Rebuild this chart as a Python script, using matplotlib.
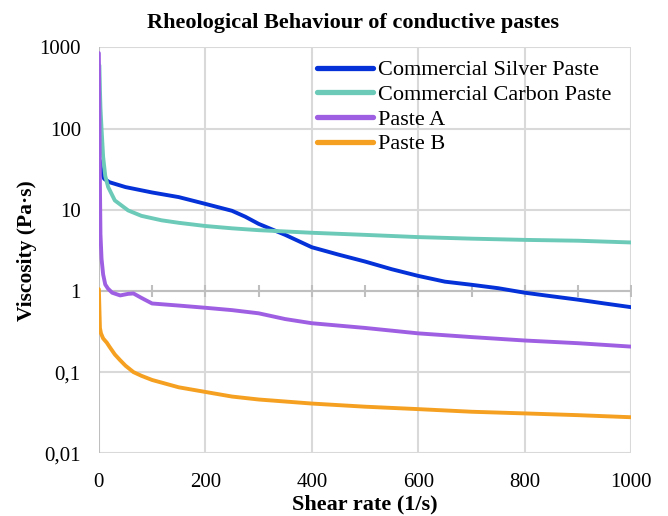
import matplotlib
matplotlib.use("Agg")
import matplotlib.pyplot as plt
import numpy as np

# ---- data ----
silver_x = [2, 5, 10, 20, 50, 100, 150, 200, 250, 275, 300, 350, 400, 450, 500, 550, 600, 650, 700, 750, 800, 850, 900, 950, 1000]
silver_y = [40, 29, 24, 21.8, 19.0, 16.3, 14.3, 11.8, 9.7, 8.2, 6.7, 4.9, 3.45, 2.8, 2.3, 1.85, 1.53, 1.3, 1.19, 1.08, 0.95, 0.86, 0.78, 0.70, 0.63]

carbon_x = [1, 2, 3, 5, 8, 12, 17.5, 30, 55, 80, 118, 150, 200, 250, 300, 400, 500, 600, 700, 800, 900, 1000]
carbon_y = [600, 300, 180, 100, 45, 26, 19, 13, 9.8, 8.4, 7.4, 6.9, 6.3, 5.9, 5.6, 5.2, 4.9, 4.6, 4.4, 4.25, 4.15, 3.95]

pasteA_x = [0, 1, 2, 3, 5, 8, 12, 17, 25, 40, 55, 65, 80, 100, 150, 200, 250, 300, 350, 400, 500, 600, 700, 800, 900, 1000]
pasteA_y = [850, 150, 20, 5, 2.5, 1.6, 1.2, 1.07, 0.95, 0.88, 0.92, 0.93, 0.82, 0.70, 0.66, 0.62, 0.58, 0.53, 0.45, 0.40, 0.35, 0.30, 0.27, 0.245, 0.227, 0.206]

pasteB_x = [0, 1, 2, 4, 8, 15, 20, 30, 40, 50, 65, 80, 100, 150, 200, 250, 300, 400, 500, 600, 700, 800, 900, 1000]
pasteB_y = [1.05, 0.6, 0.35, 0.30, 0.26, 0.23, 0.205, 0.165, 0.14, 0.12, 0.10, 0.09, 0.08, 0.065, 0.057, 0.050, 0.046, 0.041, 0.0375, 0.035, 0.0325, 0.031, 0.0295, 0.0278]

series_names = ["Commercial Silver Paste", "Commercial Carbon Paste", "Paste A", "Paste B"]
colors = ["#0432D8", "#6CCAB8", "#9F5FE3", "#F5A020"]

x_ticks = [0, 200, 400, 600, 800, 1000]
y_ticks = [0.01, 0.1, 1, 10, 100, 1000]
y_tick_labels = ["0,01", "0,1", "1", "10", "100", "1000"]
minor_marks = [100, 200, 300, 400, 500, 600, 700, 800, 900, 1000]

title = "Rheological Behaviour of conductive pastes"
xlabel = "Shear rate (1/s)"
ylabel = "Viscosity (Pa·s)"

# ---- figure ----
plt.rcParams['font.family'] = ['Liberation Serif', 'DejaVu Serif']
fig = plt.figure(figsize=(6.68, 5.16), dpi=100)
ax = fig.add_axes([0.148, 0.1215, 0.797, 0.7868])

ax.set_yscale('log')
ax.set_xlim(0, 1000)
ax.set_ylim(0.01, 1000)

grid_c = "#D9D9D9"
for xt in x_ticks[1:]:
    ax.axvline(xt, color=grid_c, lw=1.5, zorder=0)
for yt in y_ticks:
    ax.axhline(yt, color=grid_c, lw=1.5, zorder=0)

for s in ax.spines.values():
    s.set_visible(False)
ax.axvline(0, color="#BFBFBF", lw=1.5, zorder=1)
ax.axhline(1, color="#BFBFBF", lw=1.5, zorder=1)
ax.plot(minor_marks, [1] * len(minor_marks), ls='none', marker='|', ms=9, mew=1.5, color="#BFBFBF", zorder=1)

data = [(silver_x, silver_y), (carbon_x, carbon_y), (pasteA_x, pasteA_y), (pasteB_x, pasteB_y)]
for (xs, ys), name, c in zip(data, series_names, colors):
    ax.plot(xs, ys, color=c, lw=2.8, label=name, solid_capstyle='round', zorder=3)

ax.set_xticks(x_ticks)
ax.set_xticklabels([str(v) for v in x_ticks], fontsize=15)
ax.set_yticks(y_ticks)
ax.set_yticklabels(y_tick_labels, fontsize=15)
ax.yaxis.set_minor_locator(matplotlib.ticker.NullLocator())
ax.tick_params(axis='x', length=0, pad=14)
ax.tick_params(axis='y', length=0, pad=13)

ax.set_xlabel(xlabel, fontsize=16, fontweight='bold', labelpad=2)
ax.set_ylabel(ylabel, fontsize=15.5, fontweight='bold')
ax.yaxis.set_label_coords(-0.1165, 0.5)
fig.text(0.528, 1 - 28 / 516, title, fontsize=16, fontweight='bold', ha='center', va='baseline')

leg = ax.legend(loc='upper left', bbox_to_anchor=(0.4746, 0.884), bbox_transform=fig.transFigure,
                frameon=False, fontsize=16, handlelength=2.5, handletextpad=0.25,
                labelspacing=0.185, borderpad=0, borderaxespad=0)
for line in leg.get_lines():
    line.set_linewidth(3.8)

fig.savefig("out.png", dpi=100)
